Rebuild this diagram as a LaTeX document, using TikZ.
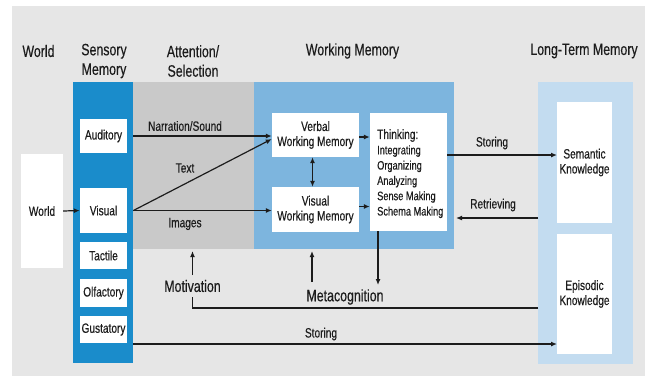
\documentclass[tikz,border=0pt]{standalone}
\usepackage{fontspec}
\setmainfont[FakeStretch=0.75,FakeBold=0.35]{Liberation Sans}
\usetikzlibrary{arrows.meta,calc}
\definecolor{bggray}{HTML}{E6E6E6}
\definecolor{attgray}{HTML}{C9C9C9}
\definecolor{smblue}{HTML}{1A8CCB}
\definecolor{wmblue}{HTML}{7DB5DE}
\definecolor{ltmblue}{HTML}{C3DCF0}
\definecolor{ink}{HTML}{1C1C1C}
\tikzset{
  panel/.style={anchor=north west, inner sep=0pt, draw=none},
  wbox/.style={fill=white, inner sep=0pt, text=ink, font=\fontsize{13.5}{15}\selectfont, align=center},
  title/.style={text=ink, font=\fontsize{16.5}{19.5}\selectfont, align=center, inner sep=0pt},
  lbl/.style={text=ink, font=\fontsize{13.5}{15}\selectfont, inner sep=0pt},
  big/.style={text=ink, font=\fontsize{16.5}{19}\selectfont, inner sep=0pt},
  arr/.style={draw=ink, line width=1.2pt, -{Latex[length=6pt,width=5pt]}},
  darr/.style={draw=ink, line width=1.2pt, {Latex[length=6pt,width=5pt]}-{Latex[length=6pt,width=5pt]}},
  ln/.style={draw=ink, line width=1.2pt}
}
\begin{document}
\begin{tikzpicture}[x=1pt,y=-1pt]
\useasboundingbox (0,0) rectangle (652,376);
\fill[white] (0,0) rectangle (652,376);
\fill[bggray] (12,6) rectangle (645,376);

% titles
\node[title] (tworld) at (38.5,51) {World};
\node[title] (tsens) at (104,61) {Sensory\\Memory};
\node[title] (tatt) at (193,61) {Attention/\\Selection};
\node[title] (twm) at (352.5,51) {Working Memory};
\node[title] (tltm) at (584,51) {Long-Term Memory};

% panels
\node[panel, fill=smblue, minimum width=60pt, minimum height=281pt] (sm) at (73,82) {};
\node[panel, fill=attgray, minimum width=121pt, minimum height=167pt] (att) at (133,82) {};
\node[panel, fill=wmblue, minimum width=200pt, minimum height=167pt] (wm) at (254,82) {};
\node[panel, fill=ltmblue, minimum width=95pt, minimum height=282pt] (ltm) at (538,82) {};

% world
\node[wbox, minimum width=42pt, minimum height=114pt] (world) at (42,211) {World};

% sensory boxes
\node[wbox, minimum width=47pt, minimum height=34pt] (aud) at (103.5,136) {Auditory};
\node[wbox, minimum width=47pt, minimum height=45pt] (vis) at (103.5,210.5) {Visual};
\node[wbox, minimum width=47pt, minimum height=27pt] (tac) at (103.5,255.5) {Tactile};
\node[wbox, minimum width=47pt, minimum height=28pt] (olf) at (103.5,293) {Olfactory};
\node[wbox, minimum width=47pt, minimum height=27pt] (gus) at (103.5,329.5) {Gustatory};

% working memory boxes
\node[wbox, minimum width=87pt, minimum height=44pt] (vwm) at (315.5,135) {Verbal\\Working Memory};
\node[wbox, minimum width=87pt, minimum height=45pt] (viswm) at (315.5,209.5) {Visual\\Working Memory};
\node[fill=white, minimum width=77pt, minimum height=118pt, inner sep=0pt] (think) at (408.5,172) {};
\node[text=ink, font=\fontsize{12.3}{15.3}\selectfont, align=left, anchor=north west, inner sep=0pt] (thinktxt) at (377,129)
  {{\fontsize{13.5}{15.3}\selectfont Thinking:}\\Integrating\\Organizing\\Analyzing\\Sense Making\\Schema Making};

% long-term boxes
\node[wbox, minimum width=55pt, minimum height=121pt] (sem) at (584.5,162.5) {Semantic\\Knowledge};
\node[wbox, minimum width=55pt, minimum height=120pt] (epi) at (584.5,294) {Episodic\\Knowledge};

% labels
\node[lbl] (lnarr) at (185,126) {Narration/Sound};
\node[lbl] (ltext) at (185,168) {Text};
\node[lbl] (limg) at (185,224) {Images};
\node[lbl] (lstore) at (492,143) {Storing};
\node[lbl] (lretr) at (493,205) {Retrieving};
\node[lbl] (lstore2) at (321,334) {Storing};
\node[big] (motiv) at (192.5,286) {Motivation};
\node[big] (meta) at (345,297) {Metacognition};

% coordinates
\coordinate (stA) at (447,155);
\coordinate (stB) at (557,155);
\coordinate (reA) at (538,218);
\coordinate (reB) at (456,218);
\coordinate (thD) at (378,231);
\coordinate (thE) at (378,285);
\coordinate (mcA) at (312,282);
\coordinate (mcB) at (312,251);
\coordinate (moA) at (192.5,275);
\coordinate (moB) at (192.5,251);
\coordinate (epA) at (538,308);
\coordinate (epB) at (192.5,308);
\coordinate (epC) at (192.5,297);
\coordinate (bsA) at (133,344);
\coordinate (bsB) at (557,344);

% connectors
\draw[arr] (world.east) -- (vis.west);
\draw[arr] (sm.east |- aud) -- (vwm.west |- aud);
\draw[arr] (sm.east |- vis) -- ($(vwm.west)+(0,4)$);
\draw[arr] (sm.east |- vis) -- (viswm.west |- vis);
\draw[darr] ($(vwm.south)+(-3,0)$) -- ($(viswm.north)+(-3,0)$);
\draw[arr] ($(vwm.east)+(0,2)$) -- (think.west |- {$(vwm.east)+(0,2)$});
\draw[arr] ($(viswm.east)+(0,-3)$) -- (think.west |- {$(viswm.east)+(0,-3)$});
\draw[arr] (stA) -- (stB);
\draw[arr] (reA) -- (reB);
\draw[arr] (thD) -- (thE);
\draw[arr] (mcA) -- (mcB);
\draw[arr] (moA) -- (moB);
\draw[ln] (epA) -- (epB) -- (epC);
\draw[arr] (bsA) -- (bsB);
\end{tikzpicture}
\end{document}
